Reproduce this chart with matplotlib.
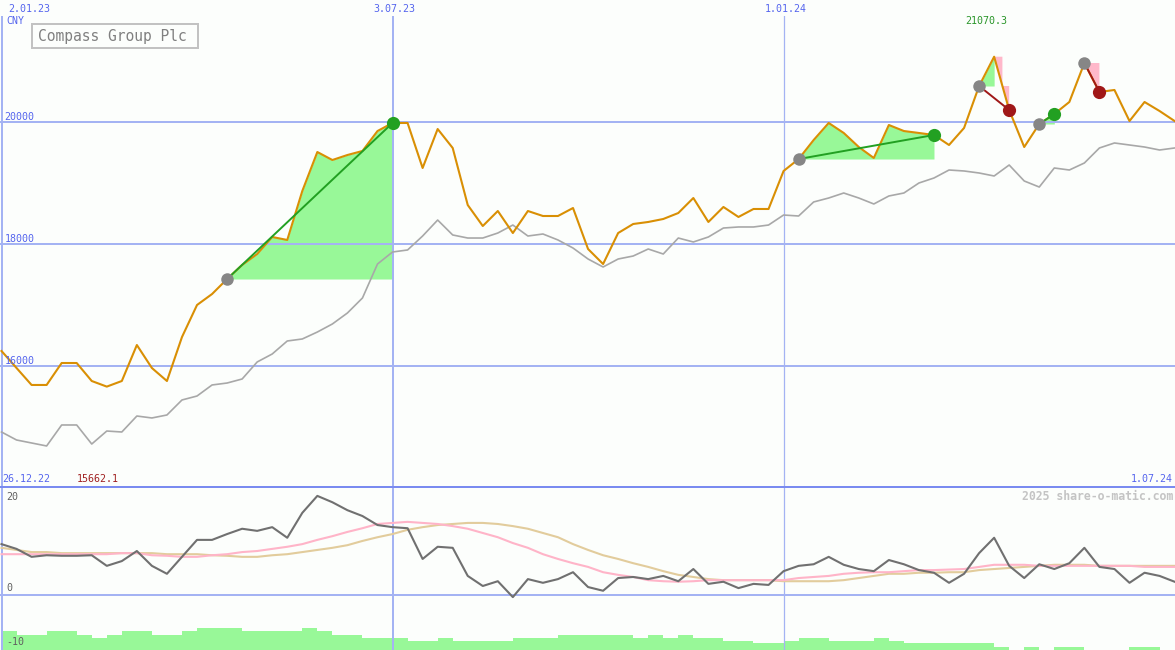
import numpy as np
import matplotlib
matplotlib.use("Agg")
import matplotlib.pyplot as plt
from matplotlib.patches import Polygon, Rectangle
from matplotlib.lines import Line2D
from matplotlib import transforms

# ---------------- data ----------------
title = "Compass Group Plc"
currency = "CNY"
date_tick_idx = [0, 26, 52]
date_tick_lbl = ["2.01.23", "3.07.23", "1.01.24"]
range_start = "26.12.22"
range_end = "1.07.24"
price_ticks = [16000, 18000, 20000]
osc_ticks = [20, 0, -10]
watermark = "2025 share-o-matic.com"

close = [16246, 15967, 15689, 15689, 16049, 16049, 15754, 15662.1, 15754, 16344,
         15967, 15754, 16475, 17000, 17180, 17426, 17656, 17836, 18115, 18066,
         18869, 19508, 19377, 19459, 19525, 19852, 19984, 19984, 19246, 19885,
         19574, 18639, 18295, 18541, 18180, 18541, 18459, 18459, 18590, 17918,
         17672, 18180, 18328, 18361, 18410, 18508, 18754, 18361, 18607, 18443,
         18574, 18574, 19197, 19393, 19705, 19984, 19820, 19590, 19410, 19951,
         19852, 19820, 19787, 19623, 19902, 20590, 21070.3, 20197, 19590, 19967,
         20131, 20328, 20967, 20492, 20525, 20016, 20328, 20180, 20016]

ma = [14918, 14787, 14738, 14689, 15033, 15033, 14721, 14934, 14918, 15180,
      15148, 15197, 15443, 15508, 15689, 15721, 15787, 16066, 16197, 16410,
      16443, 16557, 16689, 16869, 17115, 17672, 17869, 17902, 18131, 18393,
      18148, 18098, 18098, 18180, 18311, 18131, 18164, 18066, 17934, 17754,
      17623, 17754, 17803, 17918, 17836, 18098, 18033, 18115, 18262, 18279,
      18279, 18311, 18475, 18459, 18689, 18754, 18836, 18754, 18656, 18787,
      18836, 19000, 19082, 19213, 19197, 19164, 19115, 19295, 19033, 18934,
      19246, 19213, 19328, 19574, 19656, 19623, 19590, 19541, 19574]

momentum = [9.6, 8.7, 7.2, 7.5, 7.4, 7.4, 7.5, 5.5, 6.4, 8.3,
            5.5, 4.0, 7.2, 10.4, 10.4, 11.5, 12.5, 12.1, 12.8, 10.8,
            15.5, 18.7, 17.5, 16.0, 14.9, 13.2, 12.8, 12.6, 6.8, 9.1,
            8.9, 3.6, 1.7, 2.6, -0.4, 3.0, 2.3, 3.0, 4.3, 1.5,
            0.8, 3.2, 3.4, 3.0, 3.6, 2.6, 4.9, 2.1, 2.5, 1.3,
            2.1, 1.9, 4.5, 5.5, 5.8, 7.2, 5.7, 4.9, 4.5, 6.6,
            5.8, 4.7, 4.2, 2.3, 4.0, 7.9, 10.8, 5.5, 3.2, 5.8,
            4.9, 6.0, 8.9, 5.3, 4.9, 2.3, 4.2, 3.6, 2.5]

signal_fast = [7.7, 7.7, 7.7, 7.7, 7.7, 7.7, 7.7, 7.7, 7.9, 7.9,
               7.5, 7.4, 7.2, 7.2, 7.5, 7.7, 8.1, 8.3, 8.7, 9.1,
               9.6, 10.4, 11.1, 11.9, 12.6, 13.4, 13.6, 13.8, 13.6, 13.4,
               13.0, 12.5, 11.7, 10.9, 9.8, 8.9, 7.7, 6.8, 6.0, 5.3,
               4.3, 3.8, 3.4, 2.8, 2.6, 2.5, 2.6, 2.8, 2.8, 2.8,
               2.8, 2.8, 2.8, 3.2, 3.4, 3.6, 4.0, 4.2, 4.3, 4.3,
               4.5, 4.7, 4.7, 4.8, 4.9, 5.3, 5.7, 5.7, 5.7, 5.5,
               5.5, 5.5, 5.5, 5.5, 5.5, 5.5, 5.3, 5.3, 5.3]

signal_slow = [8.9, 8.5, 8.1, 8.1, 7.9, 7.9, 7.9, 7.9, 7.9, 7.9,
               7.9, 7.7, 7.7, 7.7, 7.5, 7.4, 7.2, 7.2, 7.5, 7.7,
               8.1, 8.5, 8.9, 9.4, 10.2, 10.9, 11.5, 12.3, 12.8, 13.2,
               13.4, 13.6, 13.6, 13.4, 13.0, 12.5, 11.7, 10.9, 9.6, 8.5,
               7.5, 6.8, 6.0, 5.3, 4.5, 3.8, 3.4, 3.0, 2.8, 2.8,
               2.8, 2.8, 2.6, 2.6, 2.6, 2.6, 2.8, 3.2, 3.6, 4.0,
               4.0, 4.2, 4.2, 4.3, 4.3, 4.7, 4.9, 5.1, 5.3, 5.5,
               5.7, 5.7, 5.7, 5.5, 5.5, 5.5, 5.5, 5.5, 5.5]

volume_bars = [3.6, 2.8, 2.8, 3.6, 3.6, 2.8, 2.3, 2.8, 3.6, 3.6,
               2.8, 2.8, 3.6, 4.2, 4.2, 4.2, 3.6, 3.6, 3.6, 3.6,
               4.2, 3.6, 2.8, 2.8, 2.3, 2.3, 2.3, 1.7, 1.7, 2.3,
               1.7, 1.7, 1.7, 1.7, 2.3, 2.3, 2.3, 2.8, 2.8, 2.8,
               2.8, 2.8, 2.3, 2.8, 2.3, 2.8, 2.3, 2.3, 1.7, 1.7,
               1.3, 1.3, 1.7, 2.3, 2.3, 1.7, 1.7, 1.7, 2.3, 1.7,
               1.3, 1.3, 1.3, 1.3, 1.3, 1.3, 0.6, 0.0, 0.6, 0.0,
               0.6, 0.6, 0.0, 0.0, 0.0, 0.6, 0.6, 0.0, 0.0]

trade_entries = [15, 53, 65, 69, 72]
trade_exits = [26, 62, 67, 70, 73]

# ---------------- styling ----------------
W, H, DPI = 1175, 650, 100
BG = '#fcfefc'
GRID = '#a4b3f3'
SEPC = '#7a8bf0'
BLUE = '#5565ee'
ORANGE = '#d98f04'
MAGREY = '#a8a8a8'
GFILL = '#98f898'
PFILL = '#ffb8ca'
GMARK = '#22a022'
RMARK = '#a01818'
EMARK = '#868686'
MONO = 'DejaVu Sans Mono'

fig = plt.figure(figsize=(W / DPI, H / DPI), dpi=DPI)
fig.patch.set_facecolor(BG)


def fx(px):
    return px / W


def fy(py):
    return 1 - py / H


def price_at(py):
    return 20000 - (py - 122) * 1000.0 / 61.0


def osc_at(py):
    return (595 - py) / 5.3


SEP, TOP = 486, 16
XL = -1.5 / 15.04
XR = (W - 1.5) / 15.04

ax1 = fig.add_axes([0, fy(SEP), 1, (SEP - TOP) / H])
ax2 = fig.add_axes([0, 0, 1, (H - SEP) / H])
for ax in (ax1, ax2):
    ax.set_xlim(XL, XR)
    ax.axis('off')
ax1.set_ylim(price_at(SEP), price_at(TOP))
ylo2, yhi2 = osc_at(H), osc_at(SEP)
ax2.set_ylim(ylo2, yhi2)

x = np.arange(len(close))
c = np.array(close, dtype=float)

# grid
for p in price_ticks:
    ax1.axhline(p, color=GRID, lw=1.44, zorder=1.5)
ax2.axhline(0, color=GRID, lw=1.44, zorder=1.5)
for idx, w in zip(date_tick_idx, [1.44, 1.44, 0.9]):
    ax1.axvline(idx, color=GRID, lw=w, zorder=1.5)
    ax2.axvline(idx, color=GRID, lw=w, zorder=1.5)

# trades
for e, xi in zip(trade_entries, trade_exits):
    ve, vx = c[e], c[xi]
    win = vx > ve
    if win:
        seg = slice(e, xi + 1)
        ax1.fill_between(x[seg], np.maximum(c[seg], ve), ve, color=GFILL,
                         lw=0, zorder=1)
    else:
        pk = e + int(np.argmax(c[e:xi + 1]))
        if pk > e:
            ax1.fill_between(x[e:pk + 1], np.maximum(c[e:pk + 1], ve), ve,
                             color=GFILL, lw=0, zorder=1)
        j = pk
        while j < xi and c[j + 1] >= ve:
            j += 1
        t = (c[j] - ve) / (c[j] - c[j + 1]) if c[j] != c[j + 1] else 0.0
        xc = j + t
        pts = [(k, c[k]) for k in range(pk, j + 1)] + [(xc, ve)]
        pts += [(k, c[k]) for k in range(j + 1, xi + 1)]
        pts += [(xi, ve), (xc, ve), (xc, c[pk])]
        ax1.add_patch(Polygon(pts, closed=True, facecolor=PFILL, lw=0, zorder=1))
    ax1.plot([e, xi], [ve, vx], color=GMARK if win else RMARK, lw=1.4,
             zorder=4, solid_capstyle='butt')

ax1.plot(x, ma, color=MAGREY, lw=1.2, zorder=2)
ax1.plot(x, close, color=ORANGE, lw=1.5, zorder=3)

for e, xi in zip(trade_entries, trade_exits):
    win = c[xi] > c[e]
    ax1.plot(e, c[e], 'o', ms=9, color=EMARK, mec='none', zorder=5)
    ax1.plot(xi, c[xi], 'o', ms=9.5, color=GMARK if win else RMARK,
             mec='none', zorder=5)

# lower panel
ax2.bar(x, volume_bars, width=1.0, align='edge', bottom=ylo2, color=GFILL,
        lw=0, zorder=1)
ax2.plot(x, signal_slow, color='#e2cc9c', lw=1.5, zorder=2)
ax2.plot(x, signal_fast, color='#ffb4c8', lw=1.5, zorder=2.5)
ax2.plot(x, momentum, color='#707070', lw=1.5, zorder=3)

# separator
fig.add_artist(Line2D([0, 1], [fy(486.5), fy(486.5)], transform=fig.transFigure,
                      color=SEPC, lw=1.44))

# texts
kw = dict(family=MONO, fontsize=7.2, va='center')
fig.text(fx(8), fy(9), date_tick_lbl[0], ha='left', color=BLUE, **kw)
blend = transforms.blended_transform_factory(ax1.transData, fig.transFigure)
for idx, lbl in zip(date_tick_idx[1:], date_tick_lbl[1:]):
    ax1.text(idx + 0.15, fy(9), lbl, ha='center', color=BLUE,
             transform=blend, **kw)
fig.text(fx(6), fy(21), currency, ha='left', color=BLUE, **kw)
for p in price_ticks:
    ax1.text(0.004, p, f"{p}", ha='left', color=BLUE,
             transform=transforms.blended_transform_factory(ax1.transAxes, ax1.transData),
             **dict(kw, va='bottom'))
imax = int(np.argmax(c))
ax1.text(imax - 0.5, fy(21), f"{c.max():.1f}", ha='center', color='#2a962a',
         transform=blend, **kw)
fig.text(fx(2), fy(479), range_start, ha='left', color=BLUE, **kw)
fig.text(fx(77), fy(479), f"{c.min():.1f}", ha='left', color='#a02020', **kw)
fig.text(fx(1173), fy(479), range_end, ha='right', color=BLUE, **kw)
fig.text(fx(1173), fy(496), watermark, ha='right', color='#c4c4c4',
         family=MONO, fontsize=8.3, fontweight='bold', va='center')
for v, py in zip(osc_ticks, [497, 588, 642]):
    fig.text(fx(6), fy(py), f"{v}", ha='left', color='#606060', **kw)

# title box
fig.add_artist(Rectangle((fx(32), fy(48)), fx(198) - fx(32), fy(24) - fy(48),
                         transform=fig.transFigure, facecolor=BG,
                         edgecolor='#c2c2c2', lw=1.44))
fig.text(fx(38), fy(36.5), title, ha='left', va='center', family=MONO,
         fontsize=10.5, color='#808080')

fig.savefig('out.png', dpi=DPI, facecolor=BG)
